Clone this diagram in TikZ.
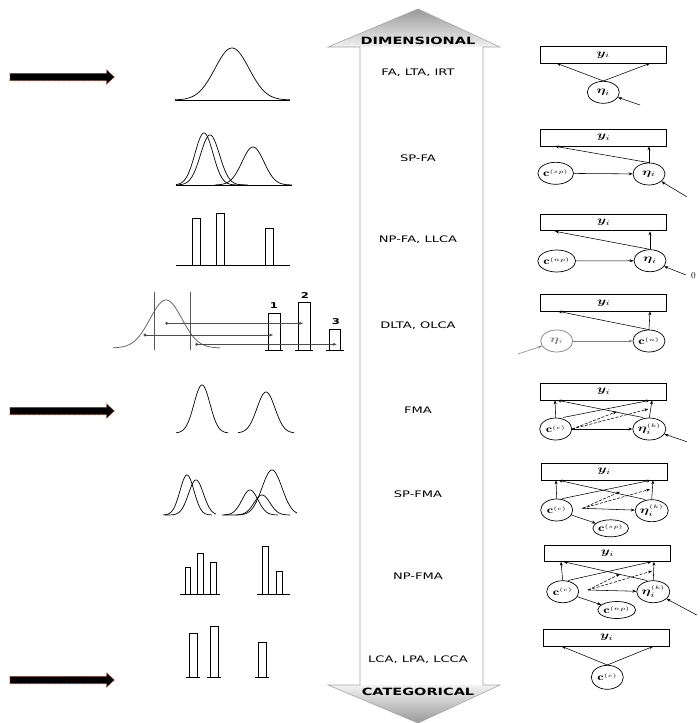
\documentclass[tikz,border=0pt]{standalone}
\usepackage{fontspec}
\usepackage{amsmath,bm}
\usetikzlibrary{shapes.geometric,arrows.meta}
\newfontfamily\lab{DejaVu Sans}
\newcommand{\wide}[1]{\scalebox{1.45}[1]{#1}}
\definecolor{arrowedge}{RGB}{150,60,40}
\tikzset{
  obs/.style={draw, rectangle, minimum width=126pt, minimum height=16.5pt, inner sep=0pt, line width=0.7pt},
  lat/.style={draw, ellipse, minimum width=32pt, minimum height=22pt, inner sep=0pt, line width=0.7pt},
  small/.style={draw, ellipse, minimum width=29pt, minimum height=17pt, inner sep=0pt, line width=0.7pt},
  arr/.style={-{Stealth[length=4pt,width=3pt]}, line width=0.55pt},
  darr/.style={-{Stealth[length=4pt,width=3pt]}, line width=0.55pt, dashed, dash pattern=on 3pt off 1.5pt},
  curve/.style={line width=0.7pt},
  bar/.style={draw, line width=0.7pt},
  rowlab/.style={font=\lab\fontsize{9}{10}\selectfont},
  biglab/.style={font=\lab\bfseries\fontsize{10}{11}\selectfont},
  txt/.style={font=\fontsize{9}{10}\selectfont, inner sep=0pt},
  pointer/.style={fill=black, draw=arrowedge, line width=0.6pt, densely dashed},
}
\begin{document}
\begin{tikzpicture}[x=1pt,y=-1pt]
\useasboundingbox (0,0) rectangle (699,723);
\fill[white] (0,0) rectangle (699,723);

% ---- pointers on the left ----
\foreach \yy in {77,411,680}{
  \draw[pointer] (10,\yy-3.7) -- (106.7,\yy-3.7) -- (106.7,\yy-7) -- (114.3,\yy) -- (106.7,\yy+7) -- (106.7,\yy+3.7) -- (10,\yy+3.7) -- cycle;
}

% ---- central double arrow ----
\shade[top color=gray!80, bottom color=gray!10] (418,9) -- (500,47) -- (328,47) -- cycle;
\shade[top color=gray!10, bottom color=gray!80] (328,685) -- (500,685) -- (418,723) -- cycle;
\draw[gray!70, line width=0.6pt] (418,9) -- (500,47) -- (483,47) -- (483,685) -- (500,685) -- (418,723)
   -- (328,685) -- (360,685) -- (360,47) -- (328,47) -- cycle;
\node[biglab] (dim) at (418,41) {\wide{DIMENSIONAL}};
\node[biglab] (cat) at (418,692) {\wide{CATEGORICAL}};
\node[rowlab] (l1) at (418,73) {\wide{FA, LTA, IRT}};
\node[rowlab] (l2) at (418,158) {\wide{SP-FA}};
\node[rowlab] (l3) at (418,240) {\wide{NP-FA, LLCA}};
\node[rowlab] (l4) at (418,326) {\wide{DLTA, OLCA}};
\node[rowlab] (l5) at (418,410) {\wide{FMA}};
\node[rowlab] (l6) at (418,494) {\wide{SP-FMA}};
\node[rowlab] (l7) at (418,576) {\wide{NP-FMA}};
\node[rowlab] (l8) at (418,660) {\wide{LCA, LPA, LCCA}};

% ---- distributions ----
% row 1: one normal curve
\draw[curve] plot[domain=175:290, samples=90] (\x, {100-52*exp(-0.5*((\x-232)/17)*((\x-232)/17))});
\draw[curve] (175,100.5) -- (290,100.5);
% row 2: semi-parametric mixture
\draw[curve] plot[domain=176:245, samples=90] (\x, {185-52*exp(-0.5*((\x-204)/9)*((\x-204)/9))});
\draw[curve] plot[domain=178:248, samples=90] (\x, {185-50*exp(-0.5*((\x-210)/9.5)*((\x-210)/9.5))});
\draw[curve] plot[domain=215:292, samples=90] (\x, {185-38*exp(-0.5*((\x-253)/11)*((\x-253)/11))});
\draw[curve] (176,185.5) -- (292,185.5);
% row 3: three point masses
\draw[bar] (192.7,265) rectangle (200.7,218);
\draw[bar] (216.3,265) rectangle (224.3,213);
\draw[bar] (265.3,265) rectangle (273.3,228);
\draw[curve] (176,265) -- (290,265);
% row 4: thresholds on a latent normal
\draw[gray!70!black, line width=0.7pt] plot[domain=113:220, samples=90] (\x, {348-48*exp(-0.5*((\x-166)/16)*((\x-166)/16))});
\draw[gray!70!black, line width=0.7pt] (154,291.7) -- (154,350);
\draw[gray!70!black, line width=0.7pt] (190.7,291.7) -- (190.7,350);
\draw[bar] (268,350) rectangle (280,313.3);
\draw[bar] (298.3,350) rectangle (310.7,302.3);
\draw[bar] (329,350) rectangle (340.7,329);
\draw[line width=0.6pt] (265,350) -- (283,350) (295,350) -- (313,350) (326,350) -- (344,350);
\node[font=\lab\bfseries\fontsize{8}{9}\selectfont] (n1) at (274,306) {\wide{1}};
\node[font=\lab\bfseries\fontsize{8}{9}\selectfont] (n2) at (305,295.5) {\wide{2}};
\node[font=\lab\bfseries\fontsize{8}{9}\selectfont] (n3) at (336,322) {\wide{3}};
\foreach \ax/\ay/\bx in {166.7/323.3/303, 145/335/273, 196.7/344.3/336.7}{
  \fill[gray!60!black] (\ax,\ay) circle (1.6pt);
  \draw[gray!60!black, -{Stealth[length=4pt,width=3pt]}, line width=0.5pt] (\ax,\ay) -- (\bx,\ay);
}
% row 5: two separated normals
\draw[curve] plot[domain=176:228, samples=90] (\x, {433-48*exp(-0.5*((\x-202)/8)*((\x-202)/8))});
\draw[curve] plot[domain=238:294, samples=90] (\x, {433-41*exp(-0.5*((\x-266)/9)*((\x-266)/9))});
% row 6: mixtures within classes
\draw[curve] plot[domain=163:212, samples=90] (\x, {515-40*exp(-0.5*((\x-187)/7)*((\x-187)/7))});
\draw[curve] plot[domain=165:216, samples=90] (\x, {515-35*exp(-0.5*((\x-196)/7.5)*((\x-196)/7.5))});
\draw[curve] plot[domain=222:297, samples=90] (\x, {515-45*exp(-0.5*((\x-272)/10)*((\x-272)/10))});
\draw[curve] plot[domain=224:278, samples=90] (\x, {515-25*exp(-0.5*((\x-250)/8)*((\x-250)/8))});
\draw[curve] plot[domain=236:290, samples=90] (\x, {515-20*exp(-0.5*((\x-262)/8)*((\x-262)/8))});
% row 7: point masses within classes
\draw[bar] (185,594) rectangle (190,567);
\draw[bar] (197,594) rectangle (203,553);
\draw[bar] (210,594) rectangle (216,562);
\draw[curve] (180,594) -- (220,594);
\draw[bar] (262,594) rectangle (268,546);
\draw[bar] (276,594) rectangle (282,571);
\draw[curve] (257,594) -- (290,594);
% row 8: latent classes
\draw[bar] (189,677) rectangle (197,633);
\draw[bar] (210,677) rectangle (218,626);
\draw[bar] (258,677) rectangle (266,642);
\draw[line width=0.6pt] (186,677) -- (200,677) (207,677) -- (221,677) (255,677) -- (269,677);

% ---- path diagrams ----
% 1: factor model
\node[obs] (y1) at (603.3,55) {\wide{$\bm{y}_i$}};
\node[lat] (e1) at (603.3,92.3) {\wide{$\bm{\eta}_i$}};
\coordinate (y1a) at (556.7,63.3); \coordinate (y1b) at (650,63.3);
\coordinate (r1) at (640,105);
\draw[arr] (e1.north) -- (y1a);
\draw[arr] (e1.north) -- (y1b);
\draw[arr] (r1) -- (e1);

% 2: semi-parametric factor model
\node[obs] (y2) at (603.7,137.7) {\wide{$\bm{y}_i$}};
\node[lat] (c2) at (555.7,173.3) {\wide{$\mathbf{c}^{\scriptscriptstyle(sp)}$}};
\node[lat] (e2) at (649,174) {\wide{$\bm{\eta}_i$}};
\coordinate (y2a) at (555,146.3); \coordinate (y2b) at (649,146.3);
\coordinate (r2) at (686.7,196.7);
\draw[arr] (c2) -- (e2);
\draw[arr] (e2.north) -- (y2a);
\draw[arr] (e2.north) -- (y2b);
\draw[arr] (r2) -- (e2);

% 3: non-parametric factor model
\node[obs] (y3) at (603.7,222.5) {\wide{$\bm{y}_i$}};
\node[lat] (c3) at (556.7,261) {\wide{$\mathbf{c}^{\scriptscriptstyle(np)}$}};
\node[lat] (e3) at (650,260.7) {\wide{$\bm{\eta}_i$}};
\coordinate (y3a) at (555,231.3); \coordinate (y3b) at (650,231.3);
\coordinate (r3) at (686,275);
\draw[arr] (c3) -- (e3);
\draw[arr] (e3.north) -- (y3a);
\draw[arr] (e3.north) -- (y3b);
\draw[arr] (r3) -- (e3);
\node[txt] (z3) at (693.5,275.5) {0};

% 4: discretized latent trait
\node[obs] (y4) at (603.7,303) {\wide{$\bm{y}_i$}};
\node[lat, draw=gray] (e4) at (556.7,341) {\wide{\color{gray}$\bm{\eta}_i$}};
\node[lat] (c4) at (649,341) {\wide{$\mathbf{c}^{\scriptscriptstyle(u)}$}};
\coordinate (y4a) at (558,311.3); \coordinate (y4b) at (650,311.3);
\coordinate (r4) at (518,354);
\draw[arr, gray] (e4) -- (c4);
\draw[arr] (c4.north) -- (y4a);
\draw[arr] (c4.north) -- (y4b);
\draw[arr, gray] (r4) -- (e4);

% 5: factor mixture model
\node[obs] (y5) at (603.7,391.7) {\wide{$\bm{y}_i$}};
\node[lat] (c5) at (555.7,429) {\wide{$\mathbf{c}^{\scriptscriptstyle(c)}$}};
\node[lat] (e5) at (649.3,429) {\wide{$\bm{\eta}_i^{\scriptscriptstyle(k)}$}};
\coordinate (y5a) at (555,400.3); \coordinate (y5b) at (557.5,400.3);
\coordinate (y5c) at (650,400.3); \coordinate (y5d) at (652,400.3);
\coordinate (c5a) at (563,417.5); \coordinate (e5a) at (643,417.5);
\coordinate (h5a) at (616.7,411.7); \coordinate (h5b) at (648.3,409);
\coordinate (r5) at (686.7,441.7);
\draw[arr] (c5.north) -- (y5a);
\draw[arr] (c5a) -- (y5c);
\draw[arr] (e5.north) -- (y5d);
\draw[arr] (e5a) -- (y5b);
\draw[darr] (c5.east) -- (h5a);
\draw[darr] (c5.east) -- (h5b);
\draw[arr] (c5) -- (e5);
\draw[arr] (r5) -- (e5);

% 6: semi-parametric factor mixture model
\node[obs] (y6) at (604.2,471.7) {\wide{$\bm{y}_i$}};
\node[lat] (c6) at (556.7,510) {\wide{$\mathbf{c}^{\scriptscriptstyle(c)}$}};
\node[lat] (e6) at (651.7,510.7) {\wide{$\bm{\eta}_i^{\scriptscriptstyle(k)}$}};
\node[small] (s6) at (610.7,528.3) {\wide{$\mathbf{c}^{\scriptscriptstyle(sp)}$}};
\coordinate (y6a) at (556,480.3); \coordinate (y6b) at (558.5,480.3);
\coordinate (y6c) at (650.7,480.3); \coordinate (y6d) at (653,480.3);
\coordinate (c6a) at (562,498.7); \coordinate (e6a) at (645,499.5);
\coordinate (h6a) at (620,491.7); \coordinate (h6b) at (650,489.3);
\coordinate (k6) at (582.5,508.3);
\draw[arr] (c6.north) -- (y6a);
\draw[arr] (c6a) -- (y6c);
\draw[arr] (e6.north) -- (y6d);
\draw[arr] (e6a) -- (y6b);
\draw[darr] (k6) -- (h6a);
\draw[darr] (k6) -- (h6b);
\draw[arr] (k6) -- (e6);
\draw[arr] (c6) -- (s6);

% 7: non-parametric factor mixture model
\node[obs] (y7) at (607.5,553.3) {\wide{$\bm{y}_i$}};
\node[lat] (c7) at (562.7,591.7) {\wide{$\mathbf{c}^{\scriptscriptstyle(c)}$}};
\node[lat] (e7) at (653.3,591.7) {\wide{$\bm{\eta}_i^{\scriptscriptstyle(k)}$}};
\node[small] (s7) at (616.7,610) {\wide{$\mathbf{c}^{\scriptscriptstyle(np)}$}};
\coordinate (y7a) at (561,561.7); \coordinate (y7b) at (563.5,561.7);
\coordinate (y7c) at (651.5,561.7); \coordinate (y7d) at (654,561.7);
\coordinate (c7a) at (568,580.5); \coordinate (e7a) at (647,580.5);
\coordinate (h7a) at (620,574); \coordinate (h7b) at (652,571);
\coordinate (k7) at (588,590);
\coordinate (r7) at (696.7,615);
\draw[arr] (c7.north) -- (y7a);
\draw[arr] (c7a) -- (y7c);
\draw[arr] (e7.north) -- (y7d);
\draw[arr] (e7a) -- (y7b);
\draw[darr] (k7) -- (h7a);
\draw[darr] (k7) -- (h7b);
\draw[arr] (k7) -- (e7);
\draw[arr] (c7) -- (s7);
\draw[arr] (r7) -- (e7);
\node[txt] (z7) at (703,615.5) {0};

% 8: latent class model
\node[obs] (y8) at (606.7,637.7) {\wide{$\bm{y}_i$}};
\node[lat, minimum height=24pt] (c8) at (607.3,677.3) {\wide{$\mathbf{c}^{\scriptscriptstyle(c)}$}};
\coordinate (y8a) at (561.7,646.3); \coordinate (y8b) at (653.3,646.3);
\draw[arr] (c8.north) -- (y8a);
\draw[arr] (c8.north) -- (y8b);
\end{tikzpicture}
\end{document}
